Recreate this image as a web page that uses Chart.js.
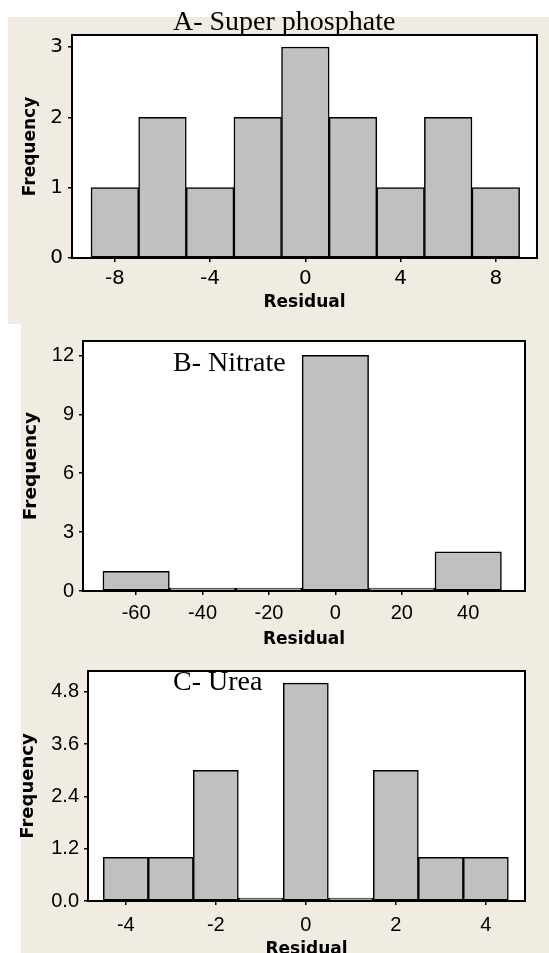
<!DOCTYPE html>
<html>
<head>
<meta charset="utf-8">
<script src="https://cdn.jsdelivr.net/npm/chart.js@4.4.1/dist/chart.umd.min.js"></script>
<style>
  html, body { margin: 0; padding: 0; width: 549px; height: 953px; overflow: hidden; background: #fff; }
  .bg { position: absolute; background: #f0ece2; }
  canvas { position: absolute; left: 0; }
  .lbl { position: absolute; font-family: 'Liberation Serif', 'Times New Roman', serif; font-size: 28px; line-height: 28px; color: #000; white-space: nowrap; }
</style>
</head>
<body>
<div class="bg" style="left:8px;top:17px;width:541px;height:307px"></div>
<div class="bg" style="left:21px;top:324px;width:528px;height:629px"></div>
<canvas id="chartA" width="549" height="325" style="top:0"></canvas>
<canvas id="chartB" width="549" height="330" style="top:324px"></canvas>
<canvas id="chartC" width="549" height="311" style="top:654px"></canvas>
<div class="lbl" style="left:173px;top:7px">A- Super phosphate</div>
<div class="lbl" style="left:173px;top:348px">B- Nitrate</div>
<div class="lbl" style="left:173px;top:667px">C- Urea</div>
<script>
// A - Super phosphate (bin midpoints, counts)
const binsA = [-8, -6, -4, -2, 0, 2, 4, 6, 8];
const countsA = [1, 2, 1, 2, 3, 2, 1, 2, 1];
const xTicksA = [-8, -4, 0, 4, 8];
const yTicksA = [0, 1, 2, 3];

// B - Nitrate
const binsB = [-60, -40, -20, 0, 20, 40];
const countsB = [1, 0, 0, 12, 0, 2];
const xTicksB = [-60, -40, -20, 0, 20, 40];
const yTicksB = [0, 3, 6, 9, 12];

// C - Urea
const binsC = [-4, -3, -2, -1, 0, 1, 2, 3, 4];
const countsC = [1, 1, 3, 0, 5, 0, 3, 1, 1];
const xTicksC = [-4, -2, 0, 2, 4];
const yTicksC = [0, 1.2, 2.4, 3.6, 4.8];

// white plot area + black box around it
const plotFrame = {
  id: 'plotFrame',
  beforeDraw(chart) {
    const a = chart.chartArea, ctx = chart.ctx;
    ctx.save();
    ctx.fillStyle = '#fff';
    ctx.fillRect(a.left, a.top, a.right - a.left, a.bottom - a.top);
    ctx.restore();
  },
  afterDatasetsDraw(chart) {
    const a = chart.chartArea, ctx = chart.ctx;
    ctx.save();
    ctx.strokeStyle = '#000';
    ctx.lineWidth = 2;
    ctx.strokeRect(a.left, a.top, a.right - a.left, a.bottom - a.top);
    ctx.restore();
  }
};

function histogram(id, bins, counts, xTicks, yTicks, o) {
  const tickFont = { family: o.tickFamily, size: o.tickSize };
  const titleFont = { family: 'DejaVu Sans', size: o.titleSize, weight: 'bold' };
  const grid = { display: true, drawOnChartArea: false, drawTicks: true, tickLength: 4,
                 color: '#000', tickColor: '#000', lineWidth: 1.5, tickWidth: 1.5, offset: false };
  return new Chart(document.getElementById(id), {
    type: 'bar',
    data: {
      datasets: [{
        data: bins.map((b, i) => ({ x: b, y: counts[i] })),
        backgroundColor: '#c0c0c0',
        borderColor: '#000',
        borderWidth: 1.5,
        borderSkipped: false,
        barPercentage: 1,
        categoryPercentage: 1,
        minBarLength: 3
      }]
    },
    options: {
      responsive: false,
      animation: false,
      events: [],
      layout: { padding: { top: o.padTop, right: o.padRight, left: 0, bottom: 0 } },
      plugins: { legend: { display: false }, tooltip: { enabled: false } },
      scales: {
        x: {
          type: 'linear', min: o.xMin, max: o.xMax, offset: false,
          afterBuildTicks: s => { s.ticks = xTicks.map(v => ({ value: v })); },
          afterFit: s => { s.height = o.xHeight; },
          ticks: { font: tickFont, color: '#000', padding: o.xPad, maxRotation: 0, autoSkip: false,
                   callback: v => String(v) },
          grid: grid,
          border: { display: false },
          title: { display: true, text: 'Residual', font: titleFont, color: '#000',
                   padding: { top: 0, bottom: o.xTitlePad } }
        },
        y: {
          min: 0, max: o.yMax,
          afterBuildTicks: s => { s.ticks = yTicks.map(v => ({ value: v })); },
          afterFit: s => { s.width = o.yWidth; },
          ticks: { font: tickFont, color: '#000', padding: 5, callback: o.yFmt },
          grid: grid,
          border: { display: false },
          title: { display: true, text: 'Frequency', font: { ...titleFont, size: o.yTitleSize }, color: '#000',
                   padding: { top: o.yTitlePad, bottom: 0 } }
        }
      }
    },
    plugins: [plotFrame]
  });
}

const narrow = "'Liberation Sans', Arial, sans-serif";

histogram('chartA', binsA, countsA, xTicksA, yTicksA, {
  xMin: -9.8, xMax: 9.73, yMax: 3.17,
  padTop: 35, padRight: 12, yWidth: 72, xHeight: 67,
  tickFamily: "'DejaVu Sans', sans-serif", tickSize: 20, xPad: 5,
  titleSize: 17, yTitleSize: 17, xTitlePad: 12, yTitlePad: 20,
  yFmt: v => String(v)
});

histogram('chartB', binsB, countsB, xTicksB, yTicksB, {
  xMin: -76, xMax: 57.1, yMax: 12.73,
  padTop: 16, padRight: 24, yWidth: 83, xHeight: 63,
  tickFamily: narrow, tickSize: 20, xPad: 6,
  titleSize: 17, yTitleSize: 18.5, xTitlePad: 4, yTitlePad: 20,
  yFmt: v => String(v)
});

histogram('chartC', binsC, countsC, xTicksC, yTicksC, {
  xMin: -4.84, xMax: 4.87, yMax: 5.28,
  padTop: 10, padRight: 24, yWidth: 88, xHeight: 64,
  tickFamily: narrow, tickSize: 20, xPad: 8,
  titleSize: 17, yTitleSize: 18, xTitlePad: 5, yTitlePad: 18,
  yFmt: v => v.toFixed(1)
});
</script>
</body>
</html>
